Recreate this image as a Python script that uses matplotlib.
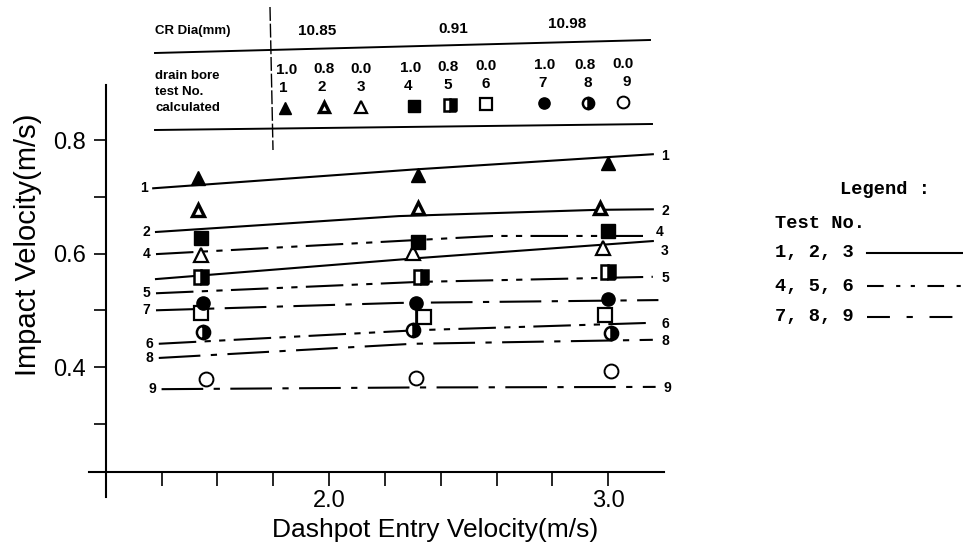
import numpy as np
import matplotlib.pyplot as plt
from matplotlib.lines import Line2D

plt.rcParams['font.family'] = ['Liberation Sans', 'DejaVu Sans']

W, H = 963, 546

# measured points (3 entry velocities per test)
test_no = [1, 2, 3, 4, 5, 6, 7, 8, 9]
meas_x = [[1.53, 2.32, 3.00],
          [1.53, 2.32, 2.97],
          [1.54, 2.30, 2.98],
          [1.54, 2.32, 3.00],
          [1.54, 2.33, 3.00],
          [1.54, 2.34, 2.99],
          [1.55, 2.31, 3.00],
          [1.55, 2.30, 3.01],
          [1.56, 2.31, 3.01]]
meas_y = [[0.733, 0.738, 0.759],
          [0.677, 0.680, 0.680],
          [0.597, 0.601, 0.610],
          [0.628, 0.620, 0.640],
          [0.559, 0.559, 0.567],
          [0.495, 0.488, 0.492],
          [0.513, 0.513, 0.520],
          [0.462, 0.465, 0.460],
          [0.379, 0.381, 0.393]]

# calculated curves
curve_x = [[1.37, 2.30, 3.16],
           [1.38, 2.25, 2.96, 3.16],
           [1.38, 2.32, 3.16],
           [1.38, 2.32, 2.59, 3.14],
           [1.38, 2.32, 3.16],
           [1.39, 2.32, 3.16],
           [1.38, 2.25, 3.18],
           [1.39, 2.30, 3.16],
           [1.40, 2.30, 3.17]]
curve_y = [[0.715, 0.748, 0.775],
           [0.638, 0.666, 0.677, 0.678],
           [0.555, 0.592, 0.622],
           [0.599, 0.624, 0.631, 0.631],
           [0.530, 0.550, 0.559],
           [0.441, 0.465, 0.478],
           [0.500, 0.513, 0.518],
           [0.416, 0.441, 0.448],
           [0.361, 0.364, 0.365]]
left_labelled = [1, 2, 4, 5, 6, 7, 8, 9]
right_labelled = [1, 2, 3, 4, 5, 6, 8, 9]

# table above the plot
cr_dia = ['10.85', '0.91', '10.98']
drain_bore = ['1.0', '0.8', '0.0', '1.0', '0.8', '0.0', '1.0', '0.8', '0.0']

dash_a = (0, (18, 4, 3, 4, 3, 4))
dash_b = (0, (20, 5, 3, 5))
line_styles = ['-', '-', '-', dash_a, dash_a, dash_a, dash_b, dash_b, dash_b]

marker_styles = [
    dict(marker='^', ms=9.5, mfc='k', mec='k'),
    dict(marker='^', ms=8, mfc='w', mec='k', mew=2.4),
    dict(marker='^', ms=10.5, mfc='w', mec='k', mew=1.6),
    dict(marker='s', ms=10.5, mfc='k', mec='k'),
    dict(marker='s', ms=10, fillstyle='right', mfc='k', mfcalt='w', mec='k', mew=1.8),
    dict(marker='s', ms=10.5, mfc='w', mec='k', mew=1.6),
    dict(marker='o', ms=9.5, mfc='k', mec='k'),
    dict(marker='o', ms=9.5, fillstyle='right', mfc='k', mfcalt='w', mec='k', mew=1.8),
    dict(marker='o', ms=10, mfc='w', mec='k', mew=1.4),
]


def fx(x):
    return x / W


def fy(y):
    return 1 - y / H


fig = plt.figure(figsize=(W / 100, H / 100), dpi=100)
ax = fig.add_axes([fx(89), fy(497), 575 / W, 412 / H])
ax.set_xlim(1.14, 3.2)
ax.set_ylim(0.171, 0.897)

for sp in ['top', 'right']:
    ax.spines[sp].set_visible(False)
ax.spines['left'].set_position(('data', 1.2))
ax.spines['bottom'].set_position(('data', 0.215))
ax.spines['left'].set_linewidth(1.5)
ax.spines['bottom'].set_linewidth(1.5)

xt = np.arange(1.2, 3.01, 0.2)
ax.set_xticks(xt)
ax.set_xticklabels(['2.0' if abs(v - 2) < 1e-6 else '3.0' if abs(v - 3) < 1e-6 else '' for v in xt])
yt = np.arange(0.3, 0.81, 0.1)
ax.set_yticks(yt)
ax.set_yticklabels(['%.1f' % v if round(v * 10) % 2 == 0 else '' for v in yt])
ax.tick_params(axis='x', direction='out', length=10, width=1.2, labelsize=17, pad=3)
ax.tick_params(axis='y', direction='out', length=9, width=1.2, labelsize=17, pad=5)

fig.text(fx(435), fy(530), 'Dashpot Entry Velocity(m/s)', fontsize=19, ha='center', va='center')
fig.text(fx(28), fy(245), 'Impact Velocity(m/s)', fontsize=21, rotation=90, ha='center', va='center')

# curves and labels
for i, n in enumerate(test_no):
    ax.plot(curve_x[i], curve_y[i], color='k', lw=1.5, linestyle=line_styles[i])
    if n in left_labelled:
        ax.annotate(str(n), (curve_x[i][0], curve_y[i][0]), xytext=(-4, 0), textcoords='offset points',
                    ha='right', va='center', fontsize=10, weight='bold')
    if n in right_labelled:
        dy = {3: -7, 4: 3}.get(n, -1)
        ax.annotate(str(n), (curve_x[i][-1], curve_y[i][-1]), xytext=(6, dy), textcoords='offset points',
                    ha='left', va='center', fontsize=10, weight='bold')

# measured markers
ax.plot([meas_x[6][1], meas_x[6][1]], [meas_y[6][1], meas_y[7][1]], color='k', lw=1.2)
for i, n in enumerate(test_no):
    st = dict(marker_styles[i])
    alt = st.pop('mfcalt', None)
    ln, = ax.plot(meas_x[i], meas_y[i], linestyle='none', **st)
    if alt:
        ln.set_markerfacecoloralt(alt)

# table
lab = dict(fontsize=9.5, weight='bold', va='center')
num = dict(fontsize=11, weight='bold', va='center', ha='center')
fig.text(fx(155), fy(31), 'CR Dia(mm)', **lab)
for s, x, y in zip(cr_dia, [317, 453, 567], [31, 29, 24]):
    fig.text(fx(x), fy(y), s, **num)
fig.text(fx(155), fy(76), 'drain bore', **lab)
fig.text(fx(155), fy(92), 'test No.', **lab)
fig.text(fx(155), fy(108), 'calculated', **lab)

col_bore = [287, 324, 361, 411, 448, 486, 545, 585, 623]
col_test = [283, 322, 361, 408, 448, 486, 543, 588, 627]
col_mark = [285, 324, 361, 414, 450, 486, 544, 588, 623]


def skew(x):
    return 6.0 * (x - 285) / 340


for j, (n, d) in enumerate(zip(test_no, drain_bore)):
    fig.text(fx(col_bore[j]), fy(70 - skew(col_bore[j])), d, **num)
    fig.text(fx(col_test[j]), fy(88 - skew(col_test[j])), str(n), **num)
    st = dict(marker_styles[j])
    alt = st.pop('mfcalt', None)
    st['ms'] = st['ms'] * 0.85
    xm = col_mark[j]
    mk = Line2D([fx(xm)], [fy(108 - skew(xm))], transform=fig.transFigure, linestyle='none', **st)
    if alt:
        mk.set_markerfacecoloralt(alt)
    fig.add_artist(mk)

fig.add_artist(Line2D([fx(155), fx(650)], [fy(53), fy(40)], transform=fig.transFigure, color='k', lw=1.4))
fig.add_artist(Line2D([fx(155), fx(652)], [fy(130), fy(124)], transform=fig.transFigure, color='k', lw=1.4))
fig.add_artist(Line2D([fx(270), fx(273)], [fy(7), fy(150)], transform=fig.transFigure, color='k', lw=1.0,
                      linestyle=(0, (10, 2))))

# legend
lg = dict(family=['Liberation Mono', 'DejaVu Sans Mono'], weight='bold', fontsize=13.5, va='center')
fig.text(fx(840), fy(190), 'Legend :', **lg)
fig.text(fx(775), fy(223), 'Test No.', **lg)
leg_dash = ['-', (0, (8, 6, 2, 5, 2, 6)), (0, (11, 8, 3, 8))]
for k, y in enumerate([253, 286, 317]):
    grp = test_no[3 * k:3 * k + 3]
    fig.text(fx(775), fy(y), ', '.join(str(g) for g in grp), **lg)
    fig.add_artist(Line2D([fx(867), fx(963)], [fy(y), fy(y)], transform=fig.transFigure, color='k',
                          lw=1.5, linestyle=leg_dash[k]))

fig.savefig('out.png', dpi=100)
